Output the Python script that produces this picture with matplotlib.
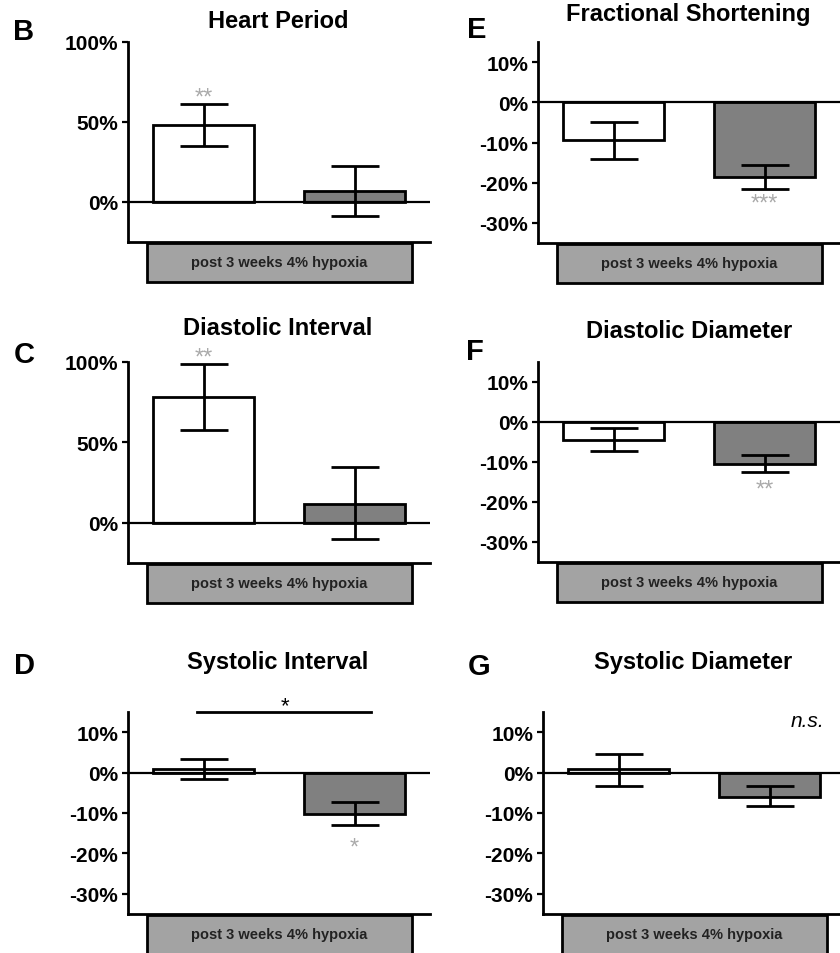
import matplotlib
matplotlib.use('Agg')
import matplotlib.pyplot as plt
from matplotlib.patches import Rectangle
from matplotlib.ticker import FuncFormatter

plt.rcParams['font.family'] = ['Liberation Sans', 'DejaVu Sans']

# bar values in % change, [control, hypoxia]; error bar bottoms / tops
hp_mean = [48, 7]
hp_low = [35, -8.5]
hp_high = [61, 22.5]

di_mean = [78, 12]
di_low = [57.5, -10]
di_high = [99, 34.5]

si_mean = [0.8, -10.3]
si_low = [-1.7, -13]
si_high = [3.3, -7.3]

fs_mean = [-9.4, -18.7]
fs_low = [-14, -21.5]
fs_high = [-4.8, -15.6]

dd_mean = [-4.4, -10.5]
dd_low = [-7.2, -12.6]
dd_high = [-1.5, -8.3]

sd_mean = [0.8, -6]
sd_low = [-3.2, -8.3]
sd_high = [4.6, -3.3]

titles = ['Heart Period', 'Diastolic Interval', 'Systolic Interval',
          'Fractional Shortening', 'Diastolic Diameter', 'Systolic Diameter']
letters = ['B', 'C', 'D', 'E', 'F', 'G']
# gray significance stars vs. baseline: (bar index, y value, text)
stars = [(0, 68.5, '**'), (0, 106, '**'), (1, -17.2, '*'),
         (1, -24, '***'), (1, -15.5, '**'), None]
box_text = 'post 3 weeks 4% hypoxia'

W, H = 840, 954
fig = plt.figure(figsize=(W / 100, H / 100), dpi=100)


def px_axes(left, top, bottom, width=302):
    return fig.add_axes([left / W, 1 - bottom / H, width / W, (bottom - top) / H])


panels = [
    (px_axes(128, 43, 243), hp_mean, hp_low, hp_high, (-25, 100), [0, 50, 100]),
    (px_axes(128, 363, 564), di_mean, di_low, di_high, (-25, 100), [0, 50, 100]),
    (px_axes(128, 713, 915), si_mean, si_low, si_high, (-35, 15), [-30, -20, -10, 0, 10]),
    (px_axes(538, 43, 244), fs_mean, fs_low, fs_high, (-35, 15), [-30, -20, -10, 0, 10]),
    (px_axes(538, 363, 563), dd_mean, dd_low, dd_high, (-35, 15), [-30, -20, -10, 0, 10]),
    (px_axes(543, 713, 915), sd_mean, sd_low, sd_high, (-35, 15), [-30, -20, -10, 0, 10]),
]

x = [0, 1]
for i, (ax, mean, low, high, ylim, ticks) in enumerate(panels):
    yerr = [[m - l for m, l in zip(mean, low)], [h - m for m, h in zip(mean, high)]]
    ax.bar(x, mean, width=0.67, color=['white', '#808080'], edgecolor='black',
           linewidth=2, zorder=2)
    ax.errorbar(x, mean, yerr=yerr, fmt='none', ecolor='black', elinewidth=2,
                capsize=17, capthick=2, zorder=3)
    ax.axhline(0, color='black', lw=1.6, zorder=4)
    ax.set_xlim(-0.5, 1.5)
    ax.set_ylim(*ylim)
    ax.set_yticks(ticks)
    ax.yaxis.set_major_formatter(FuncFormatter(lambda v, p: '{:.0f}%'.format(v)))
    ax.set_xticks([])
    ax.tick_params(axis='y', length=4, width=1.6, pad=3, labelsize=15)
    for lbl in ax.get_yticklabels():
        lbl.set_fontweight('bold')
    for s in ['top', 'right']:
        ax.spines[s].set_visible(False)
    for s in ['left', 'bottom']:
        ax.spines[s].set_linewidth(2)
    ax.patch.set_alpha(0)

    # label box under the axis
    ax.add_patch(Rectangle((0.062, -0.2), 0.88, 0.195, transform=ax.transAxes,
                           facecolor='#a3a3a3', edgecolor='black', lw=2, clip_on=False))
    ax.text(0.502, -0.1, box_text, transform=ax.transAxes, ha='center', va='center',
            fontsize=10.5, fontweight='bold', color='#222222')

    if stars[i] is not None:
        bi, yv, txt = stars[i]
        ax.annotate(txt, xy=(x[bi], yv), xytext=(0, -8), textcoords='offset points',
                    ha='center', va='baseline', fontsize=17, color='#aaaaaa',
                    annotation_clip=False)

# systolic interval: group comparison bar
ax_si = panels[2][0]
ax_si.plot([-0.04, 1.11], [15, 15], color='black', lw=2, clip_on=False)
ax_si.annotate('*', xy=(0.54, 18), xytext=(0, -8), textcoords='offset points',
               ha='center', va='baseline', fontsize=16, color='black',
               annotation_clip=False)

# systolic diameter: not significant
panels[5][0].text(1.25, 13, 'n.s.', ha='center', va='center', fontsize=15,
                  fontstyle='italic')

# titles and panel letters
title_pos = [(278, 21), (278, 329), (278, 662), (688, 15), (689, 331), (693, 662)]
letter_pos = [(24, 32), (24, 355), (25, 666), (477, 30), (475, 352), (479, 667)]
for t, (tx, ty), l, (lx, ly) in zip(titles, title_pos, letters, letter_pos):
    fig.text(tx / W, 1 - ty / H, t, ha='center', va='center', fontsize=17,
             fontweight='bold')
    fig.text(lx / W, 1 - ly / H, l, ha='center', va='center', fontsize=21,
             fontweight='bold')

fig.savefig('out.png', dpi=100)
